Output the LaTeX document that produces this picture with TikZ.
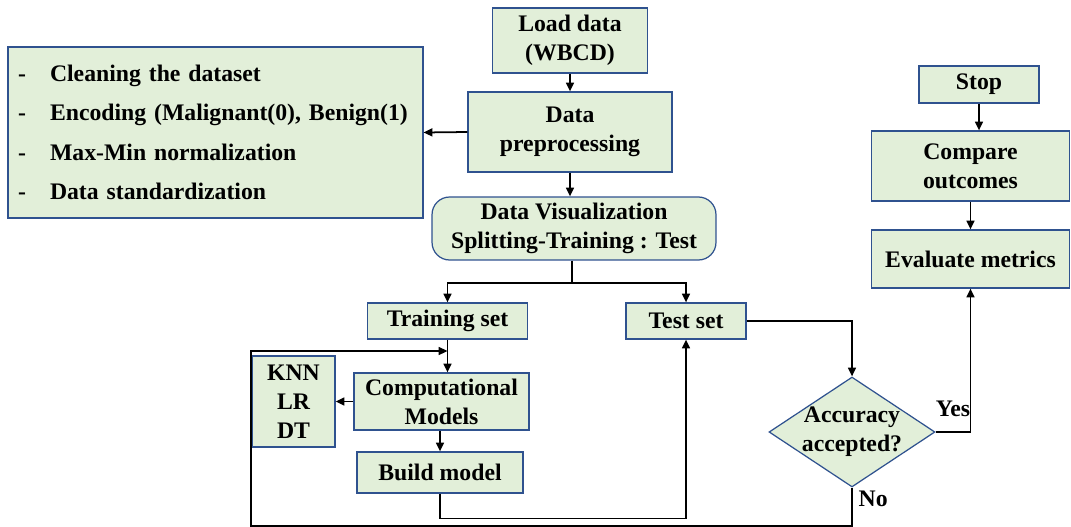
\documentclass[tikz,border=0pt]{standalone}
\usepackage{fontspec}
\setmainfont{Liberation Serif}[BoldFont={Liberation Serif Bold}]
\usepackage{xcolor}
\definecolor{boxfill}{HTML}{E2EFD9}
\definecolor{boxline}{HTML}{2F528F}
\usetikzlibrary{shapes.geometric, arrows.meta, positioning, calc}

\newcommand{\dashitem}[1]{\makebox[0.64cm][l]{-}#1}

\begin{document}
\begin{tikzpicture}[
        x=0.02cm, y=-0.02cm,
        font=\rmfamily\fontsize{13.5}{16.5}\selectfont\bfseries,
        proc_box/.style={
            rectangle,
            draw=boxline,
            fill=boxfill,
            line width=0.7pt,
            align=center,
            inner sep=2pt
        },
        list_box/.style={
            proc_box,
            align=left,
            inner xsep=0.2cm,
            text width=7.9cm,
            minimum height=3.42cm
        },
        decision/.style={
            diamond,
            draw=boxline,
            fill=boxfill,
            line width=0.7pt,
            inner sep=0pt,
            minimum width=3.32cm,
            minimum height=2.2cm
        },
        flow_arrow/.style={
            -{Triangle[length=5pt, width=4.5pt]},
            draw=black,
            line width=1pt
        },
        flow_line/.style={
            draw=black,
            line width=1pt
        }
    ]

    \useasboundingbox (0,0) rectangle (1071,527);

    % Data loading and preprocessing
    \node[proc_box, minimum width=3.1cm, minimum height=1.3cm] (load) at (570,40.5) {Load data\\(WBCD)};
    \node[proc_box, minimum width=4.08cm, minimum height=1.6cm] (prep) at (570,132) {Data\\preprocessing};
    \node[list_box] (steps) at (215.5,132.5) {\dashitem{Cleaning the dataset}\\[6pt]
        \dashitem{Encoding (Malignant(0), Benign(1)}\\[6pt]
        \dashitem{Max-Min normalization}\\[6pt]
        \dashitem{Data standardization}};

    % Visualization and split
    \node[proc_box, rounded corners=10pt, minimum width=5.68cm, minimum height=1.26cm] (vis) at (574,228.5) {Data Visualization\\Splitting-Training : Test};
    \coordinate (split) at (572,283);

    % Training branch
    \node[proc_box, minimum width=3.2cm, minimum height=0.72cm] (train) at (447.5,321) {Training set};
    \node[proc_box, minimum width=3.5cm, minimum height=1.14cm] (models) at (441.5,401.5) {Computational\\Models};
    \node[proc_box, minimum width=1.66cm, minimum height=1.82cm] (algos) at (293.5,401.5) {KNN\\LR\\DT};
    \node[proc_box, minimum width=3.32cm, minimum height=0.82cm] (build) at (440,472.5) {Build model};

    % Testing branch
    \node[proc_box, minimum width=2.4cm, minimum height=0.72cm] (test) at (686,321) {Test set};
    \node[decision] (acc) at (852,432) {};
    \node[align=center] (acc_text) at (acc.center) {Accuracy\\accepted?};

    % Evaluation column
    \node[proc_box, minimum width=2.4cm, minimum height=0.74cm] (stop) at (979,84.5) {Stop};
    \node[proc_box, minimum width=3.96cm, minimum height=1.4cm] (compare) at (970.5,166) {Compare\\outcomes};
    \node[proc_box, minimum width=3.96cm, minimum height=1.16cm] (eval) at (970.5,259) {Evaluate metrics};

    % Main flow
    \draw[flow_arrow] (load.south) -- (prep.north);
    \draw[flow_arrow] (prep.west) -- (steps.east);
    \draw[flow_arrow] (prep.south) -- (prep.south |- vis.north);
    \draw[flow_line] (vis.south -| split) -- (split);
    \draw[flow_arrow] (split) -| (train.north);
    \draw[flow_arrow] (split) -| (test.north);
    \draw[flow_arrow] (train.south) -- (train.south |- models.north);
    \draw[flow_arrow] (models.west) -- (algos.east);
    \draw[flow_arrow] (models.south -| build.north) -- (build.north);
    \draw[flow_arrow] (build.south) -- ++(0,25) -| (test.south);
    \draw[flow_arrow] (test.east) -| (acc.north);

    % Decision outcomes
    \draw[flow_arrow] (acc.east) -| (eval.south) node[pos=0.25, above, yshift=5pt] (yes_lbl) {Yes};
    \coordinate (loop_bl) at (251,526);
    \coordinate (loop_tl) at (251,351);
    \draw[flow_arrow] (acc.south) |- (loop_bl) node[pos=0.15, right] (no_lbl) {No} -- (loop_tl) -- (loop_tl -| train.south);

    \draw[flow_arrow] (stop.south) -- (stop.south |- compare.north);
    \draw[flow_arrow] (compare.south) -- (eval.north);

\end{tikzpicture}
\end{document}
